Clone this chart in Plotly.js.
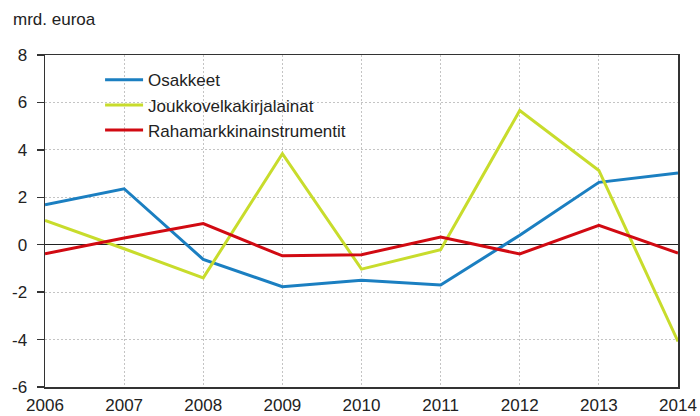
<!DOCTYPE html>
<html><head><meta charset="utf-8">
<script src="https://cdn.plot.ly/plotly-3.0.1.min.js"></script>
<style>html,body{margin:0;padding:0;background:#fff}#c{width:700px;height:416px}</style>
</head><body><div id="c"></div>
<script>
const years = [2006, 2007, 2008, 2009, 2010, 2011, 2012, 2013, 2014];
const osakkeet = [1.68, 2.36, -0.62, -1.77, -1.5, -1.7, 0.4, 2.63, 3.02];
const joukkovelkakirjalainat = [1.02, -0.17, -1.4, 3.84, -1.03, -0.21, 5.66, 3.13, -4.08];
const rahamarkkina = [-0.38, 0.28, 0.89, -0.47, -0.42, 0.32, -0.39, 0.82, -0.35];
const seriesNames = ['Osakkeet', 'Joukkovelkakirjalainat', 'Rahamarkkinainstrumentit'];
const colors = ['#1b7fc1', '#c8dc2c', '#d10a12'];
const yTicks = [-6, -4, -2, 0, 2, 4, 6, 8];

const data = [osakkeet, joukkovelkakirjalainat, rahamarkkina].map((v, i) => ({
  x: years, y: v, name: seriesNames[i], type: 'scatter', mode: 'lines',
  line: {color: colors[i], width: 3}, legendgroup: 'g' + i
}));

const font = {family: 'Liberation Sans, Arial, sans-serif', size: 17, color: '#222'};
const grid = '#c4c4c4';
const layout = {
  width: 700, height: 416,
  margin: {l: 45, r: 22, t: 55, b: 29},
  paper_bgcolor: '#fff', plot_bgcolor: '#fff',
  font: font,
  showlegend: true,
  legend: {x: 0.087, y: 0.978, xanchor: 'left', yanchor: 'top', bgcolor: 'rgba(0,0,0,0)',
           font: font, tracegroupgap: 0, itemwidth: 38},
  xaxis: {range: [2006, 2014], tickvals: years, ticktext: years.map(String),
          showgrid: true, gridcolor: grid, griddash: '2px,2px', gridwidth: 1,
          showline: true, linecolor: '#333', linewidth: 1.5, mirror: true,
          ticks: '', ticklabelstandoff: 2, zeroline: false, tickfont: font, fixedrange: true},
  xaxis2: {range: [2006, 2014], tickvals: years, overlaying: 'x', anchor: 'free',
           position: 6 / 14, showticklabels: false, ticks: 'outside', ticklen: 6,
           tickcolor: '#333', tickwidth: 1.5, showgrid: false, showline: false, zeroline: false},
  yaxis: {range: [-6, 8], tickvals: yTicks, ticktext: yTicks.map(String),
          showgrid: true, gridcolor: grid, griddash: '2px,2px', gridwidth: 1,
          showline: true, linecolor: '#333', linewidth: 1.5, mirror: true,
          ticks: 'outside', ticklen: 7, tickcolor: '#333', tickwidth: 1.5,
          ticklabelstandoff: 6,
          zeroline: true, zerolinecolor: '#222', zerolinewidth: 1.5,
          tickfont: font, fixedrange: true},
  annotations: [{text: 'mrd. euroa', xref: 'paper', yref: 'paper', x: -0.054, y: 1.0,
                 xanchor: 'left', yanchor: 'bottom', yshift: 24, showarrow: false, font: font}]
};
Plotly.newPlot('c', data, layout, {displayModeBar: false, staticPlot: true});
</script></body></html>
